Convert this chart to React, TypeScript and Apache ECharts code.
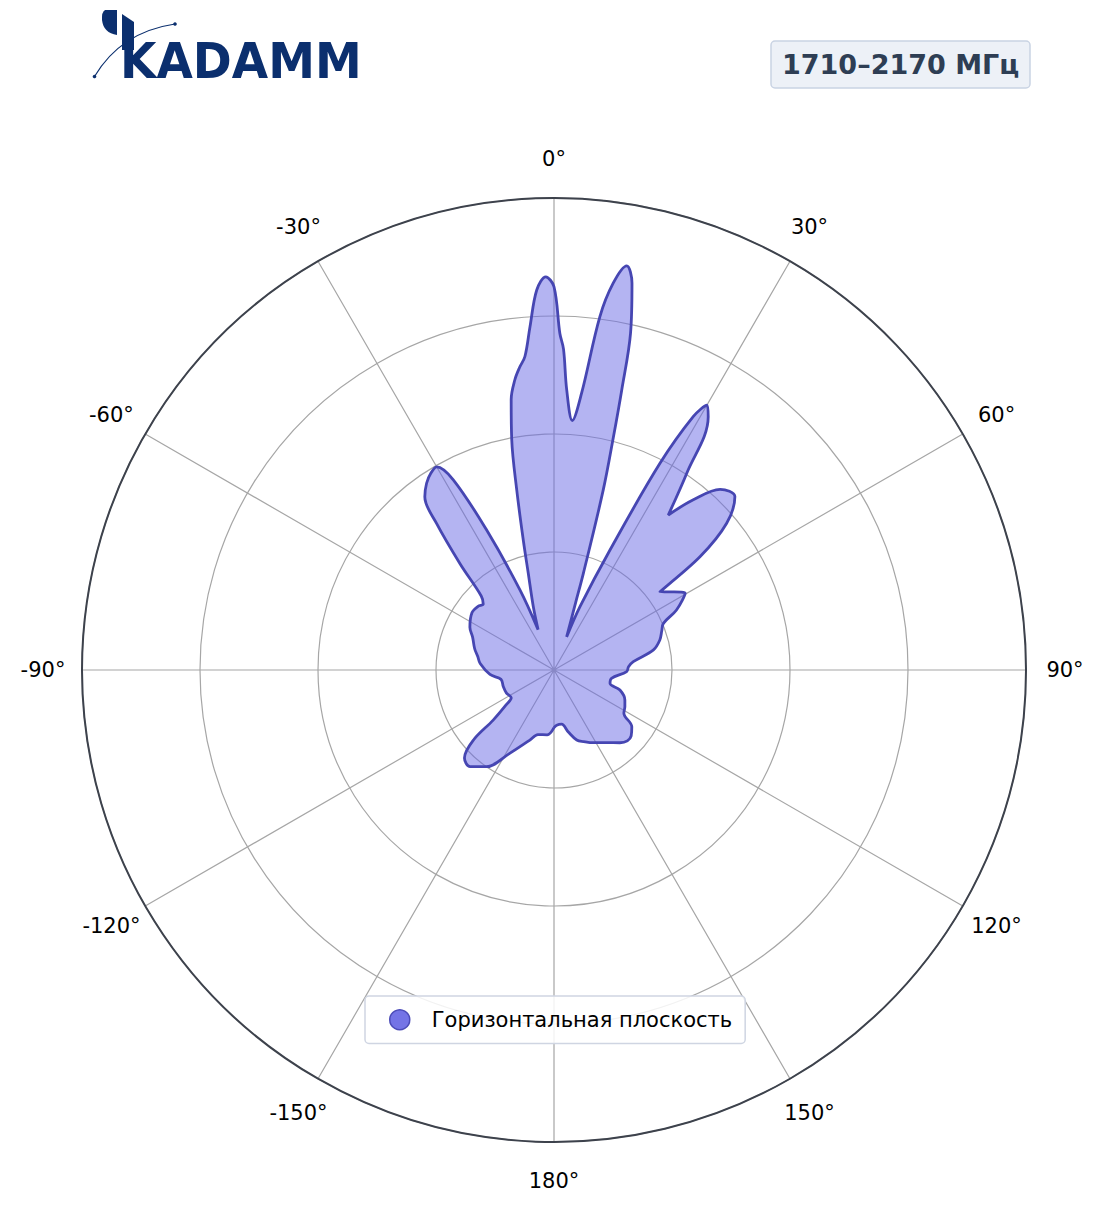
import React, { useEffect, useRef } from "react";
import * as echarts from "echarts";

// Pattern: angle in degrees (0 = top, clockwise positive) and normalised level
const ANGLES = [
  -180, -174, -166, -161, -152, -145, -139, -134.5, -131, -129.5, -126, -123, -116, -108, -100, -94,
  -85, -80, -75, -68, -63, -55, -50, -47, -44.5, -41.5, -38.7, -36.7, -34.3, -32, -30, -27.9, -25.7,
  -23, -21.5, -18.1, -14.9, -13.3, -11.7, -10.4, -9, -7.7, -6.5, -5.3, -4, -2.6, -1.2, 0, 1, 1.7,
  2.6, 4.2, 5.7, 7.4, 8.7, 10.2, 11.4, 12.8, 13.6, 14.3, 15.3, 16.9, 17.8, 20.9, 22.3, 25, 27.15,
  28.8, 30, 31.35, 34, 36.4, 39.3, 42.6, 46.2, 49.65, 52.2, 53.55, 56.5, 59.65, 63.9, 66.9, 70, 74.2,
  78.6, 84, 87.5, 91.3, 98.2, 103.4, 106.9, 112.9, 117.3, 121.7, 126.1, 130.5, 134, 137.8, 144, 151.6,
  157.5, 162, 167, 172, 177.2, 180,
];
const GAIN = [
  0.122, 0.138, 0.141, 0.157, 0.2, 0.25, 0.271, 0.266, 0.226, 0.167, 0.125, 0.108, 0.112, 0.113, 0.114, 0.136,
  0.157, 0.164, 0.174, 0.186, 0.2, 0.212, 0.21, 0.205, 0.22, 0.3, 0.398, 0.458, 0.479, 0.492, 0.497, 0.456, 0.329,
  0.184, 0.092, 0.141, 0.212, 0.283, 0.389, 0.496, 0.58, 0.62, 0.645, 0.667, 0.729, 0.806, 0.833, 0.812, 0.713, 0.68,
  0.594, 0.53, 0.59, 0.755, 0.829, 0.87, 0.836, 0.732, 0.61, 0.51, 0.395, 0.214, 0.15, 0.075, 0.145, 0.28, 0.492,
  0.613, 0.648, 0.628, 0.503, 0.408, 0.466, 0.52, 0.531, 0.48, 0.392, 0.279, 0.3, 0.322, 0.289, 0.252, 0.243, 0.233,
  0.215, 0.169, 0.158, 0.154, 0.123, 0.122, 0.146, 0.163, 0.169, 0.174, 0.204, 0.215, 0.216, 0.208, 0.19, 0.175,
  0.164, 0.156, 0.135, 0.116, 0.117, 0.122,
];
const ANGLE_TICKS = [-180, -150, -120, -90, -60, -30, 0, 30, 60, 90, 120, 150, 180];
const RING_STEP = 0.25;
const SERIES_NAME = "Горизонтальная плоскость";
const BAND_TITLE = "1710–2170 МГц";
const LOGO_TEXT = "KADAMM";

const FONT = "DejaVu Sans";
const LOGO_BLUE = "#0b2f6e";
const GRID_GRAY = "#a6a6a6";

const keyOf = (v: number) => "t" + (v < 0 ? "n" + -v : "p" + v);

export default function App() {
  const ref = useRef<HTMLDivElement>(null);

  useEffect(() => {
    document.body.style.margin = "0";
    if (!ref.current) return;
    const chart = echarts.init(ref.current, null, { renderer: "svg" });

    const R = 472;
    const labelR = 511;
    const margin = -30;
    const anchor = R + margin;
    const rich: Record<string, any> = {};
    ANGLE_TICKS.forEach((v) => {
      const t = (v * Math.PI) / 180;
      const s = Math.abs(Math.sin(t));
      const c = Math.abs(Math.cos(t));
      const centerH = (anchor * s) / R < 0.3;
      const middleV = (anchor * c) / R < 0.3;
      const w = centerH ? 80 : 2 * (labelR - anchor) * s;
      const h = middleV ? 30 : 2 * (labelR - anchor) * c;
      rich[keyOf(v)] = {
        width: w,
        height: h,
        lineHeight: h,
        align: "center",
        verticalAlign: "middle",
        fontSize: 21,
        fontFamily: FONT,
        color: "#000000",
      };
    });

    echarts.graphic.registerShape(
      "logoD",
      echarts.graphic.extendPath("M 15 0 L 3 0 Q -0.5 2 0 10 Q 1.5 23 15 25 Z", {})
    );

    const option: any = {
      animation: false,
      backgroundColor: "#ffffff",
      textStyle: { fontFamily: FONT },
      title: {
        text: BAND_TITLE,
        left: 771,
        top: 41,
        padding: [10, 11, 10, 11],
        backgroundColor: "#edf1f7",
        borderColor: "#c9d3e3",
        borderWidth: 1.5,
        borderRadius: 4,
        textStyle: {
          fontFamily: FONT,
          fontWeight: "bold",
          fontSize: 27,
          lineHeight: 27,
          color: "#2e3e54",
        },
      },
      legend: {
        left: 365,
        top: 996,
        orient: "horizontal",
        padding: [13, 13, 13, 24],
        itemWidth: 54,
        itemHeight: 20,
        backgroundColor: "rgba(255,255,255,0.85)",
        borderColor: "#cfd5e2",
        borderWidth: 1.5,
        borderRadius: 4,
        textStyle: { fontFamily: FONT, fontSize: 21, color: "#000000" },
        data: [
          {
            name: SERIES_NAME,
            icon: "circle",
            itemStyle: { color: "#7474e6", borderColor: "#4c4cb8", borderWidth: 1.5 },
          },
        ],
      },
      polar: { center: [554, 670], radius: R },
      angleAxis: {
        type: "value",
        min: -180,
        max: 180,
        interval: 30,
        startAngle: 270,
        clockwise: true,
        axisLine: { show: true, lineStyle: { color: "#3d424c", width: 2 } },
        axisTick: { show: false },
        splitLine: { show: true, lineStyle: { color: GRID_GRAY, width: 1.2 } },
        axisLabel: {
          margin: margin,
          formatter: (v: number) => `{${keyOf(v)}|${Math.abs(v) === 180 ? 180 : v}°}`,
          rich,
        },
        z: 1,
      },
      radiusAxis: {
        type: "value",
        min: 0,
        max: 1,
        interval: RING_STEP,
        axisLine: { show: false },
        axisTick: { show: false },
        axisLabel: { show: false },
        splitLine: { show: true, lineStyle: { color: GRID_GRAY, width: 1.2 } },
        z: 0,
      },
      series: [
        {
          name: SERIES_NAME,
          type: "line",
          coordinateSystem: "polar",
          smooth: 0.35,
          symbol: "none",
          data: ANGLES.map((a, i) => [GAIN[i], a]),
          lineStyle: { color: "#4646b2", width: 2.8 },
          itemStyle: { color: "#7474e6" },
          areaStyle: { color: "rgba(106,106,230,0.5)", opacity: 1 },
          z: 3,
        },
      ],
      graphic: [
        {
          type: "logoD",
          x: 102,
          y: 10,
          style: { fill: LOGO_BLUE },
        },
        {
          type: "polygon",
          shape: { points: [[122, 14], [134, 22], [134, 50], [122, 50]] },
          style: { fill: LOGO_BLUE },
        },
        {
          type: "text",
          x: 120,
          y: 60,
          scaleX: 0.94,
          style: {
            text: LOGO_TEXT,
            fontFamily: FONT,
            fontWeight: "bold",
            fontSize: 50,
            fill: LOGO_BLUE,
            verticalAlign: "middle",
            align: "left",
          },
        },
        {
          type: "bezierCurve",
          shape: { x1: 94.5, y1: 76.5, x2: 175, y2: 24, cpx1: 121, cpy1: 32 },
          style: { stroke: LOGO_BLUE, lineWidth: 1.2, fill: "none" },
        },
        { type: "circle", shape: { cx: 94.5, cy: 76.5, r: 1.8 }, style: { fill: LOGO_BLUE } },
        { type: "circle", shape: { cx: 175, cy: 24, r: 1.8 }, style: { fill: LOGO_BLUE } },
      ],
    };

    chart.setOption(option);
    return () => chart.dispose();
  }, []);

  return <div ref={ref} style={{ width: 1104, height: 1211 }} />;
}
